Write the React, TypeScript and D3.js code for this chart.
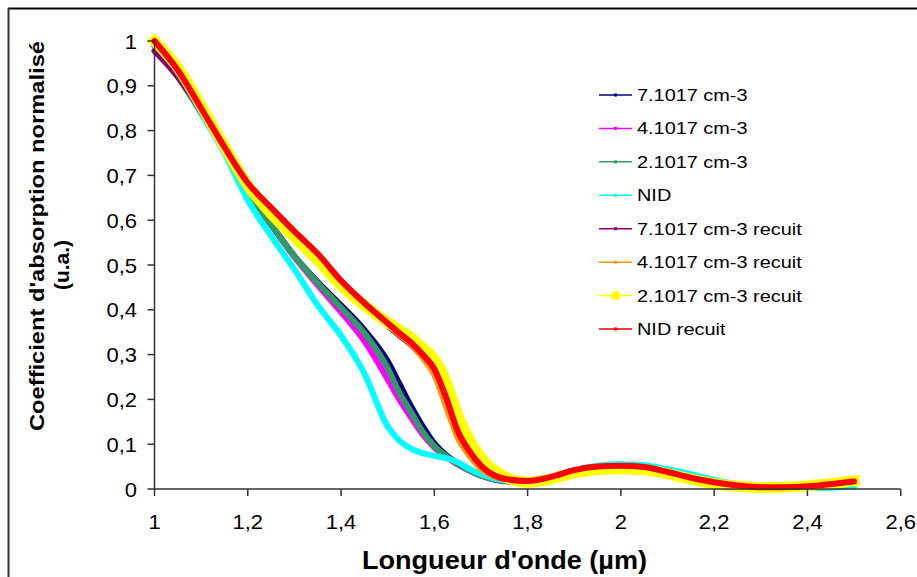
import React from "react";
import * as d3 from "d3";

const wavelengths = [1.0, 1.05, 1.1, 1.15, 1.2, 1.25, 1.3, 1.35, 1.4, 1.45, 1.5, 1.525, 1.55, 1.575, 1.6, 1.625, 1.65, 1.675, 1.7, 1.75, 1.8, 1.85, 1.9, 1.95, 2.0, 2.05, 2.1, 2.15, 2.2, 2.25, 2.3, 2.35, 2.4, 2.45, 2.5];

const s7 = [0.99, 0.925, 0.845, 0.757, 0.665, 0.59, 0.52, 0.462, 0.41, 0.355, 0.285, 0.235, 0.185, 0.14, 0.102, 0.076, 0.057, 0.042, 0.03, 0.018, 0.016, 0.026, 0.041, 0.05, 0.052, 0.049, 0.039, 0.026, 0.015, 0.008, 0.004, 0.003, 0.004, 0.007, 0.01];
const s4 = [0.99, 0.925, 0.845, 0.757, 0.665, 0.59, 0.518, 0.455, 0.395, 0.33, 0.245, 0.2, 0.16, 0.122, 0.093, 0.072, 0.055, 0.041, 0.03, 0.018, 0.016, 0.026, 0.041, 0.05, 0.052, 0.049, 0.039, 0.026, 0.015, 0.008, 0.004, 0.003, 0.004, 0.007, 0.01];
const s2 = [0.99, 0.925, 0.845, 0.757, 0.665, 0.59, 0.52, 0.46, 0.405, 0.348, 0.27, 0.215, 0.172, 0.128, 0.096, 0.074, 0.056, 0.042, 0.03, 0.018, 0.016, 0.026, 0.041, 0.05, 0.052, 0.049, 0.039, 0.026, 0.015, 0.008, 0.004, 0.003, 0.004, 0.007, 0.01];
const sNID = [0.99, 0.92, 0.838, 0.75, 0.645, 0.565, 0.49, 0.41, 0.342, 0.258, 0.14, 0.108, 0.09, 0.08, 0.074, 0.069, 0.06, 0.045, 0.033, 0.02, 0.018, 0.028, 0.042, 0.052, 0.055, 0.053, 0.044, 0.033, 0.02, 0.01, 0.004, 0.002, 0.002, 0.003, 0.005];
const s7r = [0.978, 0.92, 0.843, 0.758, 0.675, 0.62, 0.568, 0.518, 0.46, 0.41, 0.365, 0.343, 0.322, 0.295, 0.262, 0.2, 0.126, 0.083, 0.05, 0.022, 0.017, 0.026, 0.041, 0.049, 0.051, 0.048, 0.037, 0.024, 0.014, 0.007, 0.004, 0.004, 0.006, 0.01, 0.016];
const s4r = [1.0, 0.935, 0.85, 0.763, 0.682, 0.626, 0.573, 0.523, 0.463, 0.413, 0.368, 0.345, 0.323, 0.293, 0.255, 0.185, 0.115, 0.075, 0.045, 0.022, 0.017, 0.026, 0.041, 0.049, 0.051, 0.048, 0.037, 0.024, 0.014, 0.007, 0.004, 0.004, 0.006, 0.01, 0.016];
const s2r = [1.0, 0.94, 0.855, 0.765, 0.678, 0.615, 0.562, 0.51, 0.455, 0.41, 0.372, 0.355, 0.338, 0.315, 0.29, 0.24, 0.165, 0.11, 0.07, 0.028, 0.015, 0.022, 0.036, 0.043, 0.045, 0.043, 0.034, 0.022, 0.012, 0.006, 0.003, 0.004, 0.007, 0.012, 0.018];
const sNIDr = [1.0, 0.935, 0.85, 0.763, 0.683, 0.628, 0.575, 0.525, 0.465, 0.415, 0.37, 0.348, 0.327, 0.3, 0.268, 0.205, 0.13, 0.085, 0.052, 0.023, 0.018, 0.027, 0.042, 0.05, 0.052, 0.049, 0.038, 0.025, 0.015, 0.008, 0.004, 0.004, 0.006, 0.011, 0.017];

const seriesNames = ["7.1017 cm-3", "4.1017 cm-3", "2.1017 cm-3", "NID", "7.1017 cm-3 recuit", "4.1017 cm-3 recuit", "2.1017 cm-3 recuit", "NID recuit"];
const seriesValues = [s7, s4, s2, sNID, s7r, s4r, s2r, sNIDr];
const seriesColors = ["#000080", "#FF00FF", "#339966", "#00FFFF", "#800080", "#FF9900", "#FFFF00", "#FF0000"];
const seriesWidths = [6, 6, 6, 6, 6, 6, 11, 6];

const xTicks = [1, 1.2, 1.4, 1.6, 1.8, 2, 2.2, 2.4, 2.6];
const xTickLabels = ["1", "1,2", "1,4", "1,6", "1,8", "2", "2,2", "2,4", "2,6"];
const yTicks = [0, 0.1, 0.2, 0.3, 0.4, 0.5, 0.6, 0.7, 0.8, 0.9, 1];
const yTickLabels = ["0", "0,1", "0,2", "0,3", "0,4", "0,5", "0,6", "0,7", "0,8", "0,9", "1"];

const FONT = "'Liberation Sans', Arial, sans-serif";

export default function App() {
  const x = d3.scaleLinear().domain([1, 2.6]).range([154.5, 900.7]);
  const y = d3.scaleLinear().domain([0, 1]).range([489, 41]);
  const line = d3
    .line<number>()
    .x((_, i) => x(wavelengths[i]))
    .y((d) => y(d))
    .curve(d3.curveMonotoneX);

  const legendY = d3.scaleLinear().domain([0, 7]).range([95, 329]);

  return (
    <svg
      width={917}
      height={577}
      style={{ position: "absolute", left: 0, top: 0, background: "#fff" }}
    >
      <rect x={0} y={0} width={917} height={577} fill="#fff" />
      {/* outer frame */}
      <line x1={8} y1={8.5} x2={917} y2={8.5} stroke="#000" strokeWidth={2} />
      <line x1={8.5} y1={8} x2={8.5} y2={577} stroke="#333" strokeWidth={2} />

      {/* series */}
      {seriesValues.map((vals, i) => (
        <path
          key={seriesNames[i]}
          d={line(vals) || ""}
          fill="none"
          stroke={seriesColors[i]}
          strokeWidth={seriesWidths[i]}
          strokeLinejoin="round"
          strokeLinecap={i === 6 ? "square" : "round"}
        />
      ))}

      {/* axes */}
      <line x1={x(1)} y1={y(0)} x2={x(1)} y2={y(1)} stroke="#333" strokeWidth={1.5} />
      <line x1={x(1)} y1={y(0)} x2={x(2.6)} y2={y(0)} stroke="#333" strokeWidth={1.5} />
      {yTicks.map((t, i) => (
        <g key={"y" + t}>
          <line x1={x(1) - 7} x2={x(1)} y1={y(t)} y2={y(t)} stroke="#333" strokeWidth={1.5} />
          <text
            transform={`translate(137,${y(t) + 7.5}) scale(1.1,1)`}
            textAnchor="end"
            fontFamily={FONT}
            fontSize={20}
            fill="#000"
          >
            {yTickLabels[i]}
          </text>
        </g>
      ))}
      {xTicks.map((t, i) => (
        <g key={"x" + t}>
          <line x1={x(t)} x2={x(t)} y1={y(0)} y2={y(0) + 7} stroke="#333" strokeWidth={1.5} />
          <text
            transform={`translate(${x(t)},529) scale(1.1,1)`}
            textAnchor="middle"
            fontFamily={FONT}
            fontSize={20}
            fill="#000"
          >
            {xTickLabels[i]}
          </text>
        </g>
      ))}

      {/* axis titles */}
      <text
        x={504.5}
        y={569}
        textAnchor="middle"
        fontFamily={FONT}
        fontSize={26}
        fontWeight="bold"
        textLength={285}
        lengthAdjust="spacingAndGlyphs"
      >
        Longueur d'onde (µm)
      </text>
      <text
        transform="translate(44,236) rotate(-90)"
        textAnchor="middle"
        fontFamily={FONT}
        fontSize={21}
        fontWeight="bold"
        textLength={390}
        lengthAdjust="spacingAndGlyphs"
      >
        Coefficient d'absorption normalisé
      </text>
      <text
        transform="translate(69,265) rotate(-90)"
        textAnchor="middle"
        fontFamily={FONT}
        fontSize={21}
        fontWeight="bold"
      >
        (u.a.)
      </text>

      {/* legend */}
      {seriesNames.map((name, i) => {
        const ly = legendY(i);
        return (
          <g key={"lg" + name}>
            <line x1={599} x2={632} y1={ly} y2={ly} stroke={seriesColors[i]} strokeWidth={1.5} />
            {i === 6 ? (
              <rect x={611.5} y={ly - 4} width={8} height={8} fill={seriesColors[i]} />
            ) : (
              <rect x={614} y={ly - 1.5} width={3} height={3} fill={seriesColors[i]} />
            )}
            <text
              transform={`translate(637,${ly + 6}) scale(1.17,1)`}
              fontFamily={FONT}
              fontSize={17}
              fill="#000"
            >
              {name}
            </text>
          </g>
        );
      })}
    </svg>
  );
}
